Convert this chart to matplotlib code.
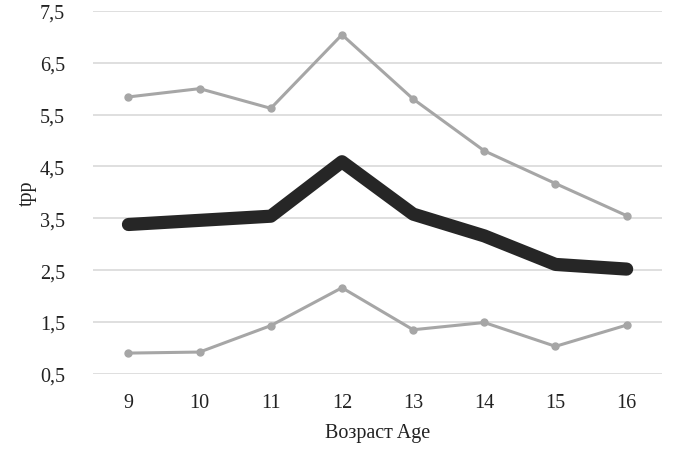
import matplotlib
matplotlib.use("Agg")
import matplotlib.pyplot as plt

ages = ["9", "10", "11", "12", "13", "14", "15", "16"]
upper = [5.84, 6.00, 5.62, 7.04, 5.80, 4.80, 4.17, 3.55]
middle = [3.38, 3.46, 3.54, 4.59, 3.58, 3.16, 2.61, 2.52]
lower = [0.90, 0.92, 1.43, 2.16, 1.35, 1.49, 1.03, 1.44]
yticks = [0.5, 1.5, 2.5, 3.5, 4.5, 5.5, 6.5, 7.5]
ytick_labels = ["0,5", "1,5", "2,5", "3,5", "4,5", "5,5", "6,5", "7,5"]

plt.rcParams['font.family'] = ['Liberation Serif', 'DejaVu Serif']

fig = plt.figure(figsize=(6.73, 4.56), dpi=100)
ax = fig.add_axes([0.138, 0.178, 0.846, 0.796])

x = list(range(len(ages)))
ax.plot(x, upper, color="#a6a6a6", lw=2.2, marker="o", ms=5, zorder=3)
ax.plot(x, lower, color="#a6a6a6", lw=2.2, marker="o", ms=5, zorder=3)
ax.plot(x, middle, color="#262626", lw=9.5, solid_capstyle="round",
        solid_joinstyle="round", zorder=4)

ax.set_xlim(-0.5, len(ages) - 0.5)
ax.set_ylim(0.5, 7.5)
ax.set_yticks(yticks)
ax.set_yticklabels(ytick_labels)
ax.set_xticks(x)
ax.set_xticklabels(ages)
ax.grid(axis="y", color="#d9d9d9", lw=1.2, zorder=0)
for s in ax.spines.values():
    s.set_visible(False)
ax.tick_params(length=0, labelsize=14.5, colors="#222222")
ax.tick_params(axis="x", pad=14)
ax.tick_params(axis="y", pad=20)
ax.set_xlabel("Возраст Age", fontsize=14.5, color="#222222", labelpad=8)
ax.set_ylabel("tpp", fontsize=14.5, color="#222222", labelpad=2)

fig.savefig("out.png", dpi=100)
